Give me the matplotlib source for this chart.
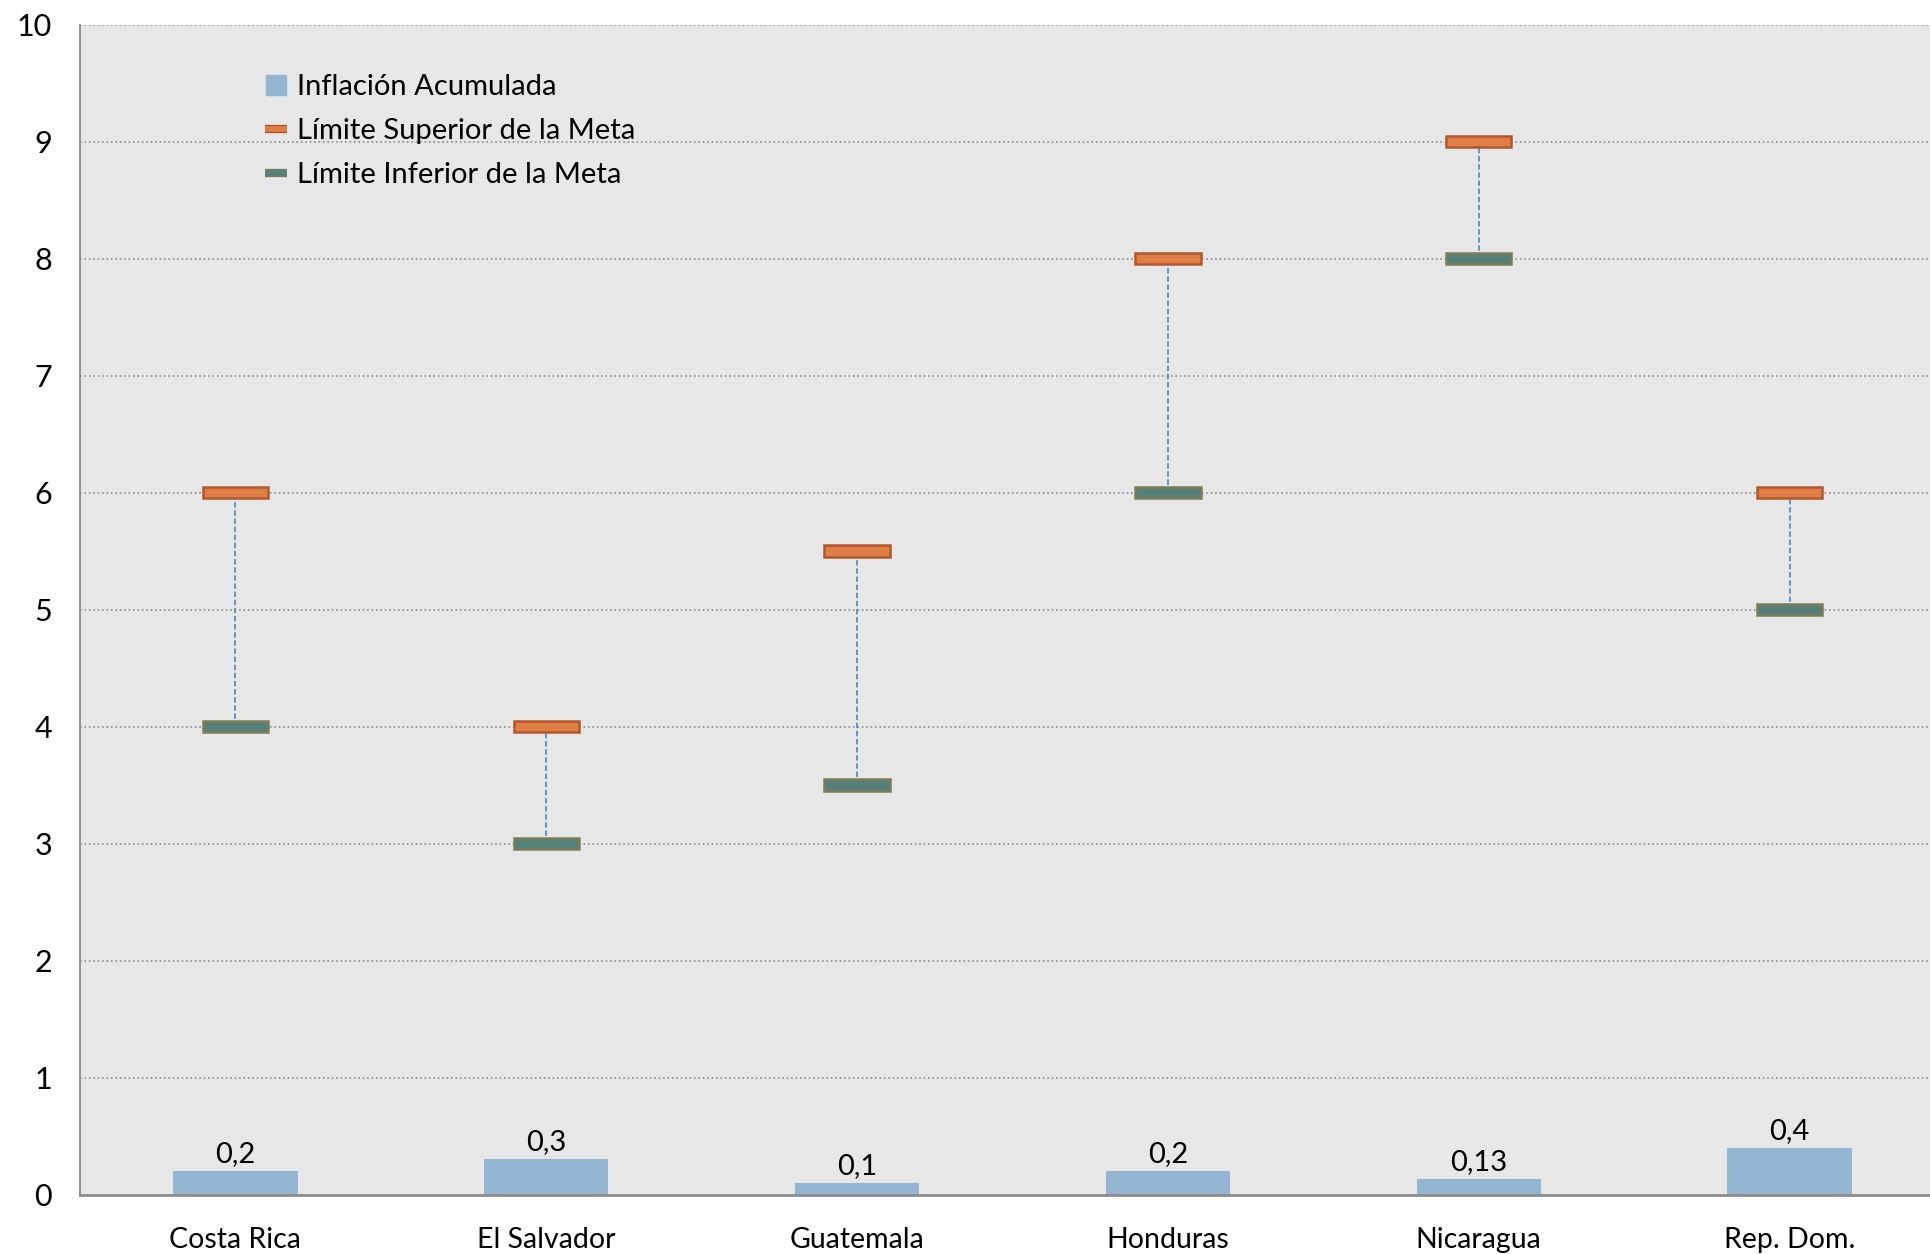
import matplotlib.pyplot as plt
import matplotlib.patheffects as pe
from matplotlib.lines import Line2D
import numpy as np

countries = ['Costa Rica', 'El Salvador', 'Guatemala', 'Honduras', 'Nicaragua', 'Rep. Dom.']
inflation = [0.2, 0.3, 0.1, 0.2, 0.13, 0.4]
inflation_labels = ['0,2', '0,3', '0,1', '0,2', '0,13', '0,4']
upper_limit = [6, 4, 5.5, 8, 9, 6]
lower_limit = [4, 3, 3.5, 6, 8, 5]
y_ticks = list(range(0, 11))

BAR_COLOR = '#95B6D3'
UP_COLOR = '#E07F45'
UP_EDGE = '#B4562B'
LOW_COLOR = '#55807A'
LOW_EDGE = '#7C7D55'


def main():
    plt.rcParams['font.family'] = ['Lato', 'DejaVu Sans']
    fig = plt.figure(figsize=(19.31, 12.54), dpi=100)
    ax = fig.add_axes([0.0414, 0.0474, 0.9586, 0.933])
    ax.set_facecolor('#E7E7E7')

    x = np.arange(len(countries))

    ax.bar(x, inflation, width=0.4, color=BAR_COLOR, zorder=2)
    for xi, v, lab in zip(x, inflation, inflation_labels):
        ax.annotate(lab, (xi, v), xytext=(0, 3), textcoords='offset points',
                    ha='center', va='bottom', fontsize=21)

    # connector between the two limits
    ax.vlines(x, lower_limit, upper_limit, colors='#5B8FC2', linestyles=(0, (3, 1.5)),
              linewidth=1.3, zorder=3)

    h = 0.1
    ax.bar(x, [h] * len(x), width=0.21, bottom=np.array(upper_limit) - h / 2,
           color=UP_COLOR, edgecolor=UP_EDGE, linewidth=1.8, zorder=4)
    ax.bar(x, [h] * len(x), width=0.21, bottom=np.array(lower_limit) - h / 2,
           color=LOW_COLOR, edgecolor=LOW_EDGE, linewidth=1.8, zorder=4)

    # the plot area is cut a little before the end of the last category
    ax.set_xlim(-0.5, len(countries) - 0.545)
    ax.set_ylim(0, 10)
    ax.set_yticks(y_ticks)
    ax.set_xticks(x)
    ax.set_xticklabels(countries)
    ax.tick_params(axis='both', length=0)
    ax.tick_params(axis='x', pad=23, labelsize=20.5)
    ax.tick_params(axis='y', pad=20, labelsize=22)

    ax.grid(axis='y', color='#8C8C8C', linestyle=':', linewidth=1.2, zorder=1)
    ax.set_axisbelow(True)
    for s in ['top', 'right']:
        ax.spines[s].set_visible(False)
    ax.spines['left'].set_color('#8C8C8C')
    ax.spines['left'].set_linewidth(1.3)
    ax.spines['bottom'].set_color('#8C8C8C')
    ax.spines['bottom'].set_linewidth(2)

    handles = [
        Line2D([], [], linestyle='none', marker='s', markersize=14,
               markerfacecolor=BAR_COLOR, markeredgecolor=BAR_COLOR),
        Line2D([], [], color=UP_COLOR, linewidth=4, solid_capstyle='butt',
               path_effects=[pe.Stroke(linewidth=6, foreground=UP_EDGE), pe.Normal()]),
        Line2D([], [], color=LOW_COLOR, linewidth=4, solid_capstyle='butt',
               path_effects=[pe.Stroke(linewidth=6, foreground=LOW_EDGE), pe.Normal()]),
    ]
    labels = ['Inflación Acumulada', 'Límite Superior de la Meta', 'Límite Inferior de la Meta']
    ax.legend(handles, labels, loc='upper left', bbox_to_anchor=(0.086, 0.98),
              frameon=False, fontsize=21, handlelength=0.75, handletextpad=0.35,
              labelspacing=0.62)

    fig.savefig('out.png', dpi=100)


if __name__ == '__main__':
    main()
